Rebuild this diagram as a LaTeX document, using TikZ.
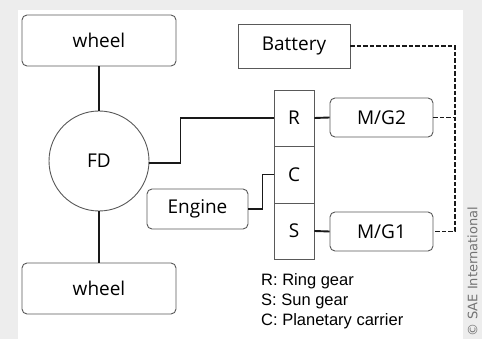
\documentclass[tikz,border=0pt]{standalone}
\usepackage{fontspec}
\setmainfont{Open Sans}
\newfontfamily\legendfont{Liberation Sans}
\newfontfamily\notefont{DejaVu Sans}
\usetikzlibrary{calc,positioning}

\tikzset{
  unitbox/.style={draw=black!65,line width=.9pt,rounded corners=5pt,font=\fontsize{19}{21}\selectfont},
  gearbox/.style={draw=black!65,line width=.9pt,minimum width=40pt,font=\fontsize{19}{21}\selectfont},
  shaft/.style={line width=1.9pt,black!90},
  wire/.style={line width=1.9pt,dash pattern=on 4.5pt off 2pt,black!90}
}

\begin{document}
\begin{tikzpicture}[x=1pt,y=-1pt]
  % page and panel
  \fill[black!7] (0,0) rectangle (482,339);
  \fill[white] (18,10) rectangle (463,339);
  \useasboundingbox (0,0) rectangle (482,339);

  % parts
  \node[unitbox,minimum width=154pt,minimum height=51pt] (wheelT) at (99,40.5) {wheel};
  \node[unitbox,rounded corners=0pt,minimum width=112pt,minimum height=44pt] (battery) at (294,46) {Battery};
  \node[draw=black!65,line width=.9pt,circle,minimum size=100pt,font=\fontsize{19}{21}\selectfont] (fd) at (99,161) {FD};
  \node[gearbox,minimum height=56pt] (ring) at (294,118) {R};
  \node[gearbox,minimum height=57pt] (carrier) at (294,174.5) {C};
  \node[gearbox,minimum height=56pt] (sun) at (294,231) {S};
  \node[unitbox,minimum width=103pt,minimum height=39pt] (mg2) at (381.5,117.5) {M/G2};
  \node[unitbox,minimum width=103pt,minimum height=39pt] (mg1) at (381.5,231.5) {M/G1};
  \node[unitbox,minimum width=101pt,minimum height=40pt] (engine) at (197.5,209) {Engine};
  \node[unitbox,minimum width=154pt,minimum height=51pt] (wheelB) at (99,288.5) {wheel};

  % mechanical links
  \draw[shaft] (wheelT.south) -- (fd.north);
  \draw[shaft] (fd.east) ++(0,2) -- ++(31,0) |- (ring.west);
  \draw[shaft] (fd.south) -- (wheelB.north);
  \draw[shaft] (ring.east) -- (mg2.west);
  \draw[shaft] (sun.east) -- (mg1.west);
  \draw[shaft] (engine.east) -- ++(14,0) |- (carrier.west);

  % electric links
  \coordinate (busT) at (455,46);
  \coordinate (busB) at (455,231.5);
  \draw[wire] (battery.east) -- (busT) -- (busB) -- (mg1.east);
  \draw[wire] (mg2.east) -- (mg2.east -| busT);

  \node[anchor=north west,align=left,inner sep=0pt,font=\legendfont\fontsize{16.5}{20}\selectfont] (legend) at (261,273)
    {R: Ring gear\\S: Sun gear\\C: Planetary\ carrier};
  \node[rotate=90,anchor=west,inner sep=0pt,text=black!55,font=\notefont\fontsize{13}{15}\selectfont] (credit) at (472.5,337) {© SAE International};
\end{tikzpicture}
\end{document}
